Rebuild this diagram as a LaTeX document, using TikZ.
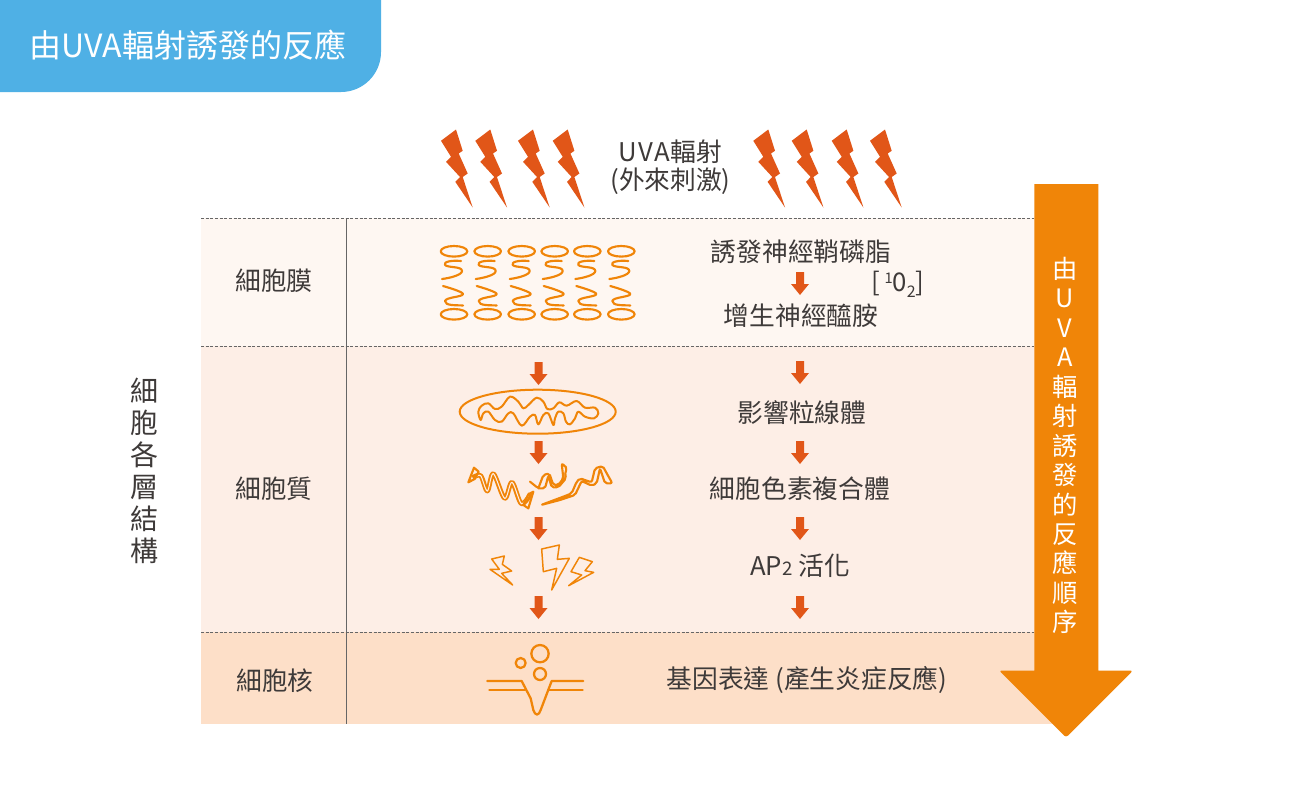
\documentclass[tikz,border=0pt]{standalone}
\usepackage{fontspec}
\setmainfont{Noto Sans CJK TC}
\definecolor{hdr}{HTML}{4FB0E5}
\definecolor{ink}{HTML}{3E3A39}
\definecolor{bolt}{HTML}{E15618}
\definecolor{ora}{HTML}{F08508}
\definecolor{rowa}{HTML}{FEF7F2}
\definecolor{rowb}{HTML}{FDEEE6}
\definecolor{rowc}{HTML}{FDDFC8}
\tikzset{
  txt/.style={text=ink,font=\fontsize{19.3pt}{22pt}\selectfont,inner sep=0pt,align=center},
  icon/.style={draw=ora,line width=1.6pt,fill=none,line join=round,line cap=round},
  sep/.style={draw=black!60,line width=.6pt,dash pattern=on 2.2pt off 1.3pt},
}
\newcommand{\bigbolt}[1]{\fill[bolt,shift={(#1,129.5)}] (0,11.3)--(15,0)--(21.7,21.3)--(17.7,24)--(26.7,44)--(21.7,47.5)--(31.7,78)--(14.3,52.3)--(19,47.5)--(5,32.3)--(10,27.3)--cycle;}
\newcommand{\blockarrow}[2]{\fill[bolt,shift={(#1,#2)}] (-4,0)--(4,0)--(4,12)--(9,12)--(0,23)--(-9,12)--(-4,12)--cycle;}
\newcommand{\coil}[1]{%
\begin{scope}[shift={(#1,0)}]
\draw[icon] (0,251.3) ellipse (13.3 and 5.3);
\draw[icon] (0,314.3) ellipse (13.3 and 5.3);
\draw[icon] (7,261) .. controls (-3,260) and (-11,262) .. (-9,265) .. controls (-6,268) and (8,266) .. (8,271) .. controls (8,275) and (-4,278) .. (-12,279);
\draw[icon] (-11,286) .. controls (-4,288) and (9,292) .. (9,294) .. controls (9,297) and (-8,297) .. (-9,301) .. controls (-9,306) and (2,305) .. (9,305.5);
\end{scope}}
\begin{document}
\begin{tikzpicture}[x=.75pt,y=-.75pt]
\useasboundingbox (0,0) rectangle (1300,800);
\fill[white] (0,0) rectangle (1300,800);
% header
\fill[hdr] (0,0)--(381,0)--(381,52) arc[start angle=0,end angle=90,radius=40] --(0,92)--cycle;
\node[txt,text=white,font=\fontsize{24pt}{26pt}\selectfont] (title) at (188,45) {由UVA輻射誘發的反應};
% rows
\fill[rowa] (201,218) rectangle (1060,346);
\fill[rowb] (201,346) rectangle (1060,632);
\fill[rowc] (201,632) rectangle (1060,724);
\draw[sep] (201,218.5) -- (1034,218.5);
\draw[sep] (201,346.5) -- (1034,346.5);
\draw[sep] (201,632.5) -- (1034,632.5);
\draw[draw=black!60,line width=.75pt] (346.5,218) -- (346.5,724);
% big arrow
\fill[ora] (1034.3,184)--(1098.3,184)--(1098.3,670.5)--(1125,670.5) [rounded corners=2pt] --(1133,670.5)--(1066,737.5)--(999,670.5) [sharp corners] --(1034.3,670.5)--cycle;
\node[txt,text=white,font=\fontsize{19pt}{22.1pt}\selectfont] (order) at (1065,445.5) {由\\U\\V\\A\\輻\\射\\誘\\發\\的\\反\\應\\順\\序};
% bolts
\bigbolt{441}\bigbolt{475.3}\bigbolt{518}\bigbolt{552.7}
\bigbolt{753.3}\bigbolt{791.7}\bigbolt{831.7}\bigbolt{870}
% texts
\node[txt] (uva) at (670.5,151.5) {U\kern.8pt V\kern.8pt A\kern.8pt 輻射};
\node[txt] (ext) at (670.5,181) {(外來刺激)};
\node[txt,font=\fontsize{21pt}{24pt}\selectfont] (layers) at (144,471) {細\\胞\\各\\層\\結\\構};
\node[txt] (mem) at (274,281) {細胞膜};
\node[txt] (cyt) at (274,489) {細胞質};
\node[txt] (nuc) at (275,681) {細胞核};
\node[txt] (r1) at (801,252) {誘發神經鞘磷脂};
\node[txt] (r2) at (801,316) {增生神經醯胺};
\node[txt] (oxy) at (898,284) {[\,\raisebox{6pt}{\fontsize{11pt}{11pt}\selectfont 1}0\raisebox{-4.5pt}{\fontsize{12pt}{12pt}\selectfont 2}]};
\node[txt] (r3) at (802,413) {影響粒線體};
\node[txt] (r4) at (800,489) {細胞色素複合體};
\node[txt] (r5) at (800,566) {AP{\fontsize{14pt}{14pt}\selectfont 2} 活化};
\node[txt] (r6) at (807,680) {基因表達 (產生炎症反應)};
% small arrows
\blockarrow{800}{272}\blockarrow{800}{361}\blockarrow{800}{441}\blockarrow{800}{517}\blockarrow{800}{596}
\blockarrow{538.5}{362}\blockarrow{538.5}{441}\blockarrow{538.5}{517}\blockarrow{538.5}{596}
% membrane
\coil{454}\coil{487.7}\coil{521.7}\coil{554.7}\coil{587.3}\coil{621.3}
% mitochondrion
\draw[icon,line width=1.5pt] (537.7,411.7) ellipse (78 and 22);
\begin{scope}[shift={(470,385)},x=.25pt,y=-.25pt]
\draw[icon,line width=1.5pt] plot[smooth cycle,tension=.6] coordinates {(25,80)(35,62)(55,55)(75,72)(95,65)(120,35)(145,50)(160,70)(175,60)(200,38)(220,50)(232,72)(250,70)(268,52)(290,62)(320,48)(345,68)(375,68)(385,85)(372,100)(345,95)(325,80)(315,100)(300,118)(288,110)(280,85)(265,80)(255,100)(250,120)(235,85)(220,90)(205,118)(195,90)(180,95)(155,122)(130,85)(115,85)(95,110)(75,105)(55,80)(40,85)(32,105)};
\end{scope}
% ribbons
\begin{scope}[shift={(460,455)},x=.25pt,y=-.25pt]
\draw[icon,line width=3.6pt,line cap=butt] plot[smooth,tension=.55] coordinates {(38,68)(62,62)(82,108)(100,56)(134,130)(156,82)(184,146)(212,116)};
\draw[rowb,line width=.8pt] plot[smooth,tension=.55] coordinates {(45,68)(62,62)(82,108)(100,56)(134,130)(156,82)(184,146)(206,118)};
\draw[icon] (25,82)--(42,38)--(56,50)--(44,72)--cycle;
\draw[icon] (205,118)--(220,110)--(205,160)--(190,150)--cycle;
\end{scope}
\begin{scope}[shift={(530,455)},x=.25pt,y=-.25pt]
\draw[icon,rounded corners=1.5pt] (0,80)--(25,100)--(40,60)--(58,55)--(70,90)--(85,90)--(100,70)--(95,25)--(112,40)--(105,50)--(108,70)--(85,97)--(65,97)--(55,62)--(45,100)--(25,100);
\draw[icon,rounded corners=1.5pt] (33,150)--(100,125)--(125,115)--(140,80)--(150,70)--(185,82)--(195,40)--(218,33)--(247,85)--(225,85)--(210,40)--(200,85)--(185,92)--(155,78)--(135,120)--(90,135)--cycle;
\end{scope}
% small bolts and nucleus
\begin{scope}[shift={(470,530)},x=.25pt,y=-.25pt]
\draw[icon,line width=1.1pt] (65,87)--(103,78)--(97,103)--(125,123)--(95,130)--(128,165)--(60,118)--(88,118)--cycle;
\draw[icon,line width=1.1pt] (215,57)--(268,45)--(262,88)--(298,85)--(245,180)--(260,115)--(220,125)--cycle;
\draw[icon,line width=1.1pt] (328,82)--(367,95)--(345,122)--(371,127)--(296,167)--(335,135)--(303,125)--cycle;
\draw[icon,line width=1.7pt] (210,371) circle (26);
\draw[icon,line width=1.7pt] (152,399) circle (15);
\draw[icon,line width=1.7pt] (210,432) circle (18);
\draw[icon,line width=1.7pt] (52,453)--(155,453)--(182,505)--(190,540) .. controls (195,558) and (207,558) .. (212,540) -- (245,453)--(340,453);
\draw[icon,line width=1.7pt] (58,480)--(165,480);
\draw[icon,line width=1.7pt] (235,480)--(338,480);
\end{scope}
\end{tikzpicture}
\end{document}
